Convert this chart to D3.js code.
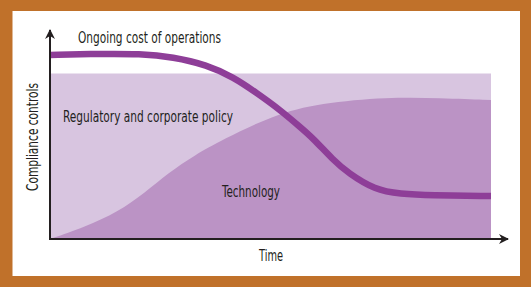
<!DOCTYPE html>
<html>
<head>
<meta charset="utf-8">
<script src="https://d3js.org/d3.v7.min.js"></script>
<style>
  body { margin: 0; background: #c0712a; }
  text { font-family: "Liberation Sans Narrow", "DejaVu Sans", sans-serif; font-stretch: condensed; fill: #231f20; }
</style>
</head>
<body>
<div id="chart"></div>
<script>
// Time axis positions (0-100, no ticks in the original)
const techTime  = [0, 7.9, 15.4, 21.5, 26.8, 32.9, 39, 50.6, 61.2, 76.6, 88.4, 100];
const techValue = [0, 6, 13.5, 23, 33, 42, 49.5, 62, 68, 71, 70.5, 69.5];

const costTime  = [0, 11.3, 20.4, 27.9, 35.6, 41.5, 46.9, 52.2, 56.7, 59.6, 64.2, 67.6, 73.7, 79.4, 86.2, 100];
const costValue = [92, 92.6, 92.6, 91, 87, 81, 73, 64.5, 56, 50.5, 39.5, 33, 24.5, 22.5, 21.75, 21.5];

const policyTime  = [0, 100];
const policyValue = [82.75, 82.75];

const labels = {
  cost: "Ongoing cost of operations",
  policy: "Regulatory and corporate policy",
  tech: "Technology",
  xTitle: "Time",
  yTitle: "Compliance controls"
};

const width = 531, height = 287;

const svg = d3.select("#chart").append("svg")
    .attr("width", width)
    .attr("height", height);

// White panel inside the orange frame
svg.append("rect")
    .attr("x", 12.5).attr("y", 11)
    .attr("width", 507.5).attr("height", 265)
    .attr("fill", "#fff");

const x = d3.scaleLinear().domain([0, 100]).range([50, 491]);
const y = d3.scaleLinear().domain([0, 100]).range([239, 39]);

const area = d3.area()
    .x(d => x(d[0]))
    .y0(y(0))
    .y1(d => y(d[1]));

const line = d3.line()
    .x(d => x(d[0]))
    .y(d => y(d[1]))
    .curve(d3.curveBasis);

// Policy band
svg.append("path")
    .datum(d3.zip(policyTime, policyValue))
    .attr("d", area.curve(d3.curveLinear))
    .attr("fill", "#d8c5e0");

// Technology area
svg.append("path")
    .datum(d3.zip(techTime, techValue))
    .attr("d", area.curve(d3.curveBasis))
    .attr("fill", "#bb93c5");

// Cost line
svg.append("path")
    .datum(d3.zip(costTime, costValue))
    .attr("d", line)
    .attr("fill", "none")
    .attr("stroke", "#8e3e98")
    .attr("stroke-width", 6.5);

// Arrow heads
const defs = svg.append("defs");
defs.append("marker")
    .attr("id", "arrow")
    .attr("viewBox", "0 0 10 10")
    .attr("refX", 9).attr("refY", 5)
    .attr("markerWidth", 5).attr("markerHeight", 5)
    .attr("markerUnits", "strokeWidth")
    .attr("orient", "auto")
  .append("path")
    .attr("d", "M0,0 L10,5 L0,10 L3,5 Z")
    .attr("fill", "#231f20");

// Axes
svg.append("line")
    .attr("x1", x(0)).attr("y1", y(0))
    .attr("x2", x(0)).attr("y2", 30)
    .attr("stroke", "#231f20").attr("stroke-width", 2)
    .attr("marker-end", "url(#arrow)");

svg.append("line")
    .attr("x1", x(0) - 1).attr("y1", y(0))
    .attr("x2", 508).attr("y2", y(0))
    .attr("stroke", "#231f20").attr("stroke-width", 2)
    .attr("marker-end", "url(#arrow)");

// Labels (widths fitted to the condensed face of the original)
function label(txt, len) {
  return svg.append("text")
      .attr("font-size", 15)
      .attr("textLength", len)
      .attr("lengthAdjust", "spacingAndGlyphs")
      .text(txt);
}
label(labels.cost, 143).attr("x", 78).attr("y", 43);
label(labels.policy, 170).attr("x", 63).attr("y", 122);
label(labels.tech, 58).attr("x", 222).attr("y", 197);
label(labels.xTitle, 24).attr("x", 259).attr("y", 261);
label(labels.yTitle, 108)
    .attr("transform", "translate(38,191) rotate(-90)");
</script>
</body>
</html>
